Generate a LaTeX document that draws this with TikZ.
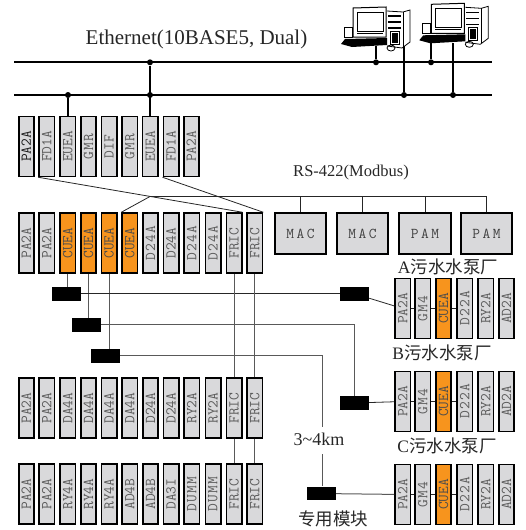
\documentclass[tikz,border=0pt]{standalone}
\usepackage{fontspec}
\setmainfont{Liberation Serif}
\newfontfamily\cjk{Noto Sans CJK SC}
\usepackage{tikz}
\usetikzlibrary{positioning}

\definecolor{modgray}{HTML}{D9D9DB}
\definecolor{cueaorange}{HTML}{F7941D}
\newcommand{\gp}{\kern1.2pt}

\begin{document}
\begin{tikzpicture}[
    x=1pt, y=-1pt,
    module/.style={rectangle, draw=black, line width=1.7pt, fill=modgray, minimum width=15.3pt, minimum height=59.8pt, inner sep=0pt, text=black!65, font=\fontsize{15}{15}\ttfamily},
    cuea/.style={module, fill=cueaorange, text=black!70},
    meter/.style={rectangle, draw=black, line width=1.7pt, fill=modgray, minimum width=51.5pt, minimum height=41pt, inner sep=0pt, text=black!75, font=\fontsize{15}{15}\ttfamily},
    conv/.style={rectangle, fill=black, minimum width=29pt, minimum height=13.7pt, inner sep=0pt},
    bus/.style={line width=2pt},
    drop/.style={line width=1.5pt},
    wire/.style={line width=0.8pt, black!85},
    fibre/.style={line width=1pt, black!65},
    dot/.style={circle, fill=black, inner sep=0pt, minimum size=6pt},
    title/.style={inner sep=0pt, font=\fontsize{16.5}{16.5}\selectfont, text=black!85},
    plant/.style={inner sep=0pt, font=\fontsize{17.5}{17.5}\selectfont, text=black!85}
]
\useasboundingbox (0,0) rectangle (525,530);

% computers
\tikzset{pc/.pic={
    \draw[line width=1pt] (-19,-28) -- (14,-29) -- (14,1) -- (-19,1) -- cycle;
    \draw[line width=0.8pt] (-15,-24) rectangle (11,-5);
    \draw[line width=0.5pt] (-15,-3) -- (11,-3);
    \draw[line width=0.8pt] (15,-25) -- (31,-24) -- (38,-26) -- (38,6) -- (30,12) -- (15,10);
    \draw[line width=0.8pt] (31,-24) -- (31,11);
    \draw[line width=1.2pt] (16,-20) -- (29,-20) (16,-14) -- (29,-14) (16,-8) -- (29,-8);
    \draw[line width=0.9pt] (18,-5) rectangle (27,8);
    \fill (20,-3) rectangle (26,7);
    \draw[line width=0.8pt] (-28,-9) rectangle (-20,1);
    \fill (-31,8) -- (-27,3) -- (15,2) -- (15,9) -- (-20,11) -- cycle;
    \draw[line width=0.8pt] (19,12) ellipse (4pt and 3pt);
}}

\coordinate (ethA) at (14,62.3);
\coordinate (ethAr) at (492,62.3);
\coordinate (ethB) at (14,95);
\coordinate (ethBr) at (492,95);
\draw[bus] (ethA) -- (ethAr);
\draw[bus] (ethB) -- (ethBr);

\node[title, font=\fontsize{21}{21}\selectfont] (ether) at (196.5,39) {Ethernet(10BASE5, Dual)};
\node[title] (rs) at (351,173) {RS-422(Modbus)};

% rack 1
\foreach \x/\n/\t in {46.7/a2/FD1A, 67.7/a3/EUEA, 88.5/a4/G\gp M\gp R, 109/a5/DIF, 129.8/a6/G\gp M\gp R, 150.2/a7/EUEA, 171/a8/FD1A, 191.3/a9/PA2A}
    \node[module] (\n) at (\x,146.5) {\rotatebox{90}{\t}};
\node[module, text=black!90] (a1) at (26.3,146.5) {\rotatebox{90}{PA2A}};

% rack 2
\foreach \x/\n/\t in {26.3/b1/PA2A, 46.7/b2/PA2A, 150.5/b7/D\gp 2\gp 4\gp A, 171/b8/D24A, 191.8/b9/D\gp 2\gp 4\gp A, 213/b10/D\gp 2\gp 4\gp A, 234/b11/FRIC, 254.8/b12/FRIC}
    \node[module] (\n) at (\x,243) {\rotatebox{90}{\t}};
\foreach \x/\n in {67.7/b3, 88.5/b4, 109/b5, 129.8/b6}
    \node[cuea] (\n) at (\x,243) {\rotatebox{90}{CUEA}};

% rack 3
\foreach \x/\n/\t in {26.3/c1/PA2A, 46.7/c2/PA2A, 67.7/c3/DA4A, 88.5/c4/DA4A, 109/c5/DA4A, 129.8/c6/DA4A, 150.5/c7/D24A, 171/c8/D24A, 191.8/c9/RY2A, 213/c10/RY2A, 234/c11/FRIC, 254.8/c12/FRIC}
    \node[module] (\n) at (\x,408) {\rotatebox{90}{\t}};

% rack 4
\foreach \x/\n/\t in {26.3/d1/PA2A, 46.7/d2/PA2A, 67.7/d3/RY4A, 88.5/d4/RY4A, 109/d5/RY4A, 129.8/d6/AD4B, 150.5/d7/AD4B, 171/d8/DA3I, 191.8/d9/D\gp U\gp M\gp M, 213/d10/D\gp U\gp M\gp M, 234/d11/FRIC, 254.8/d12/FRIC}
    \node[module] (\n) at (\x,494) {\rotatebox{90}{\t}};

% Modbus units
\node[meter] (mac1) at (300.5,233.5) {M\,A\,C};
\node[meter] (mac2) at (362.5,233.5) {M\,A\,C};
\node[meter] (pam1) at (425,233.5) {P\,A\,M};
\node[meter] (pam2) at (486.5,233.5) {P\,A\,M};

% pump stations
\foreach \r/\y in {e/308.5, f/401.5, g/494.5} {
    \node[module] (\r1) at (402.7,\y) {\rotatebox{90}{PA2A}};
    \node[module] (\r2) at (422.8,\y) {\rotatebox{90}{G\gp M\gp 4}};
    \node[cuea] (\r3) at (443.5,\y) {\rotatebox{90}{CUEA}};
    \node[module] (\r4) at (464.8,\y) {\rotatebox{90}{D\gp 2\gp 2\gp A}};
    \node[module] (\r5) at (485.8,\y) {\rotatebox{90}{RY2A}};
    \node[module] (\r6) at (506.5,\y) {\rotatebox{90}{AD2A}};
    \draw[wire] (\r1) -- (\r2);
    \draw[wire] (\r2) -- (\r3);
    \draw[wire] (\r3) -- (\r4);
}
\node[plant] (plantA) at (448,267) {A{\cjk 污水水泵厂}};
\node[plant] (plantB) at (442,353) {B{\cjk 污水水泵厂}};
\node[plant] (plantC) at (447,446) {C{\cjk 污水水泵厂}};

% converters
\node[conv] (k1) at (66.5,293.7) {};
\node[conv] (k2) at (86.5,324.8) {};
\node[conv] (k3) at (105.5,355.8) {};
\node[conv] (k4) at (354.5,293.7) {};
\node[conv] (k5) at (354.5,403) {};
\node[conv] (k6) at (321.5,493.5) {};
\node[title, font=\fontsize{18}{18}\selectfont] (dist) at (319,439) {3\textasciitilde 4km};
\node[plant, font=\fontsize{17.5}{17.5}\cjk] (special) at (333,519) {专用模块};

% computers on the bus
\pic (pc1) at (372,36) {pc};
\pic (pc2) at (450.3,32.3) {pc};

\coordinate (pc1a) at (378,46);
\coordinate (pc1b) at (405,46);
\coordinate (pc2a) at (432,42);
\coordinate (pc2b) at (454,43);
\node[dot] (j1) at (150,62.3) {};
\node[dot] (j2) at (150,95) {};
\node[dot] (j3) at (68,95) {};
\node[dot] (j4) at (376,62.3) {};
\node[dot] (j5) at (404,95) {};
\node[dot] (j6) at (431,62.3) {};
\node[dot] (j7) at (453,95) {};
\draw[drop] (j1) -- (a7.north -| j1);
\draw[drop] (j3) -- (a3.north -| j3);
\draw[drop] (pc1a -| j4) -- (j4);
\draw[drop] (pc1b -| j5) -- (j5);
\draw[drop] (pc2a -| j6) -- (j6);
\draw[drop] (pc2b -| j7) -- (j7);

% Modbus
\coordinate (tap) at (150,196.5);
\draw[wire] (a2.south west) -- (b11.north east);
\draw[wire] (a8.south west) -- (b12.north east);
\draw[wire] (b6.north west) -- (tap) -- (pam2.north |- tap) -- (pam2.north);
\draw[wire] (mac1.north |- tap) -- (mac1.north);
\draw[wire] (mac2.north |- tap) -- (mac2.north);
\draw[wire] (pam1.north |- tap) -- (pam1.north);

% fibre
\coordinate (gapA) at (322.7,427);
\coordinate (gapB) at (322.7,454);
\draw[fibre] (b3.south) -- (k1.north -| b3);
\draw[fibre] (b4.south) -- (k2.north -| b4);
\draw[fibre] (b5.south) -- (k3.north -| b5);
\draw[wire] (k1) -- (k4);
\draw[wire] (k4) -- (e1);
\draw[fibre] (k2) -| (k5);
\draw[wire] (k5) -- (f1);
\draw[fibre] (k3) -| (gapA);
\draw[fibre] (gapB) -- (k6.north -| gapB);
\draw[fibre] (k6) -- (g1);

% FRIC links
\draw[fibre] (b11) -- (c11);
\draw[fibre] (b12) -- (c12);
\draw[fibre] (c11) -- (d11);
\draw[fibre] (c12) -- (d12);

\end{tikzpicture}
\end{document}
